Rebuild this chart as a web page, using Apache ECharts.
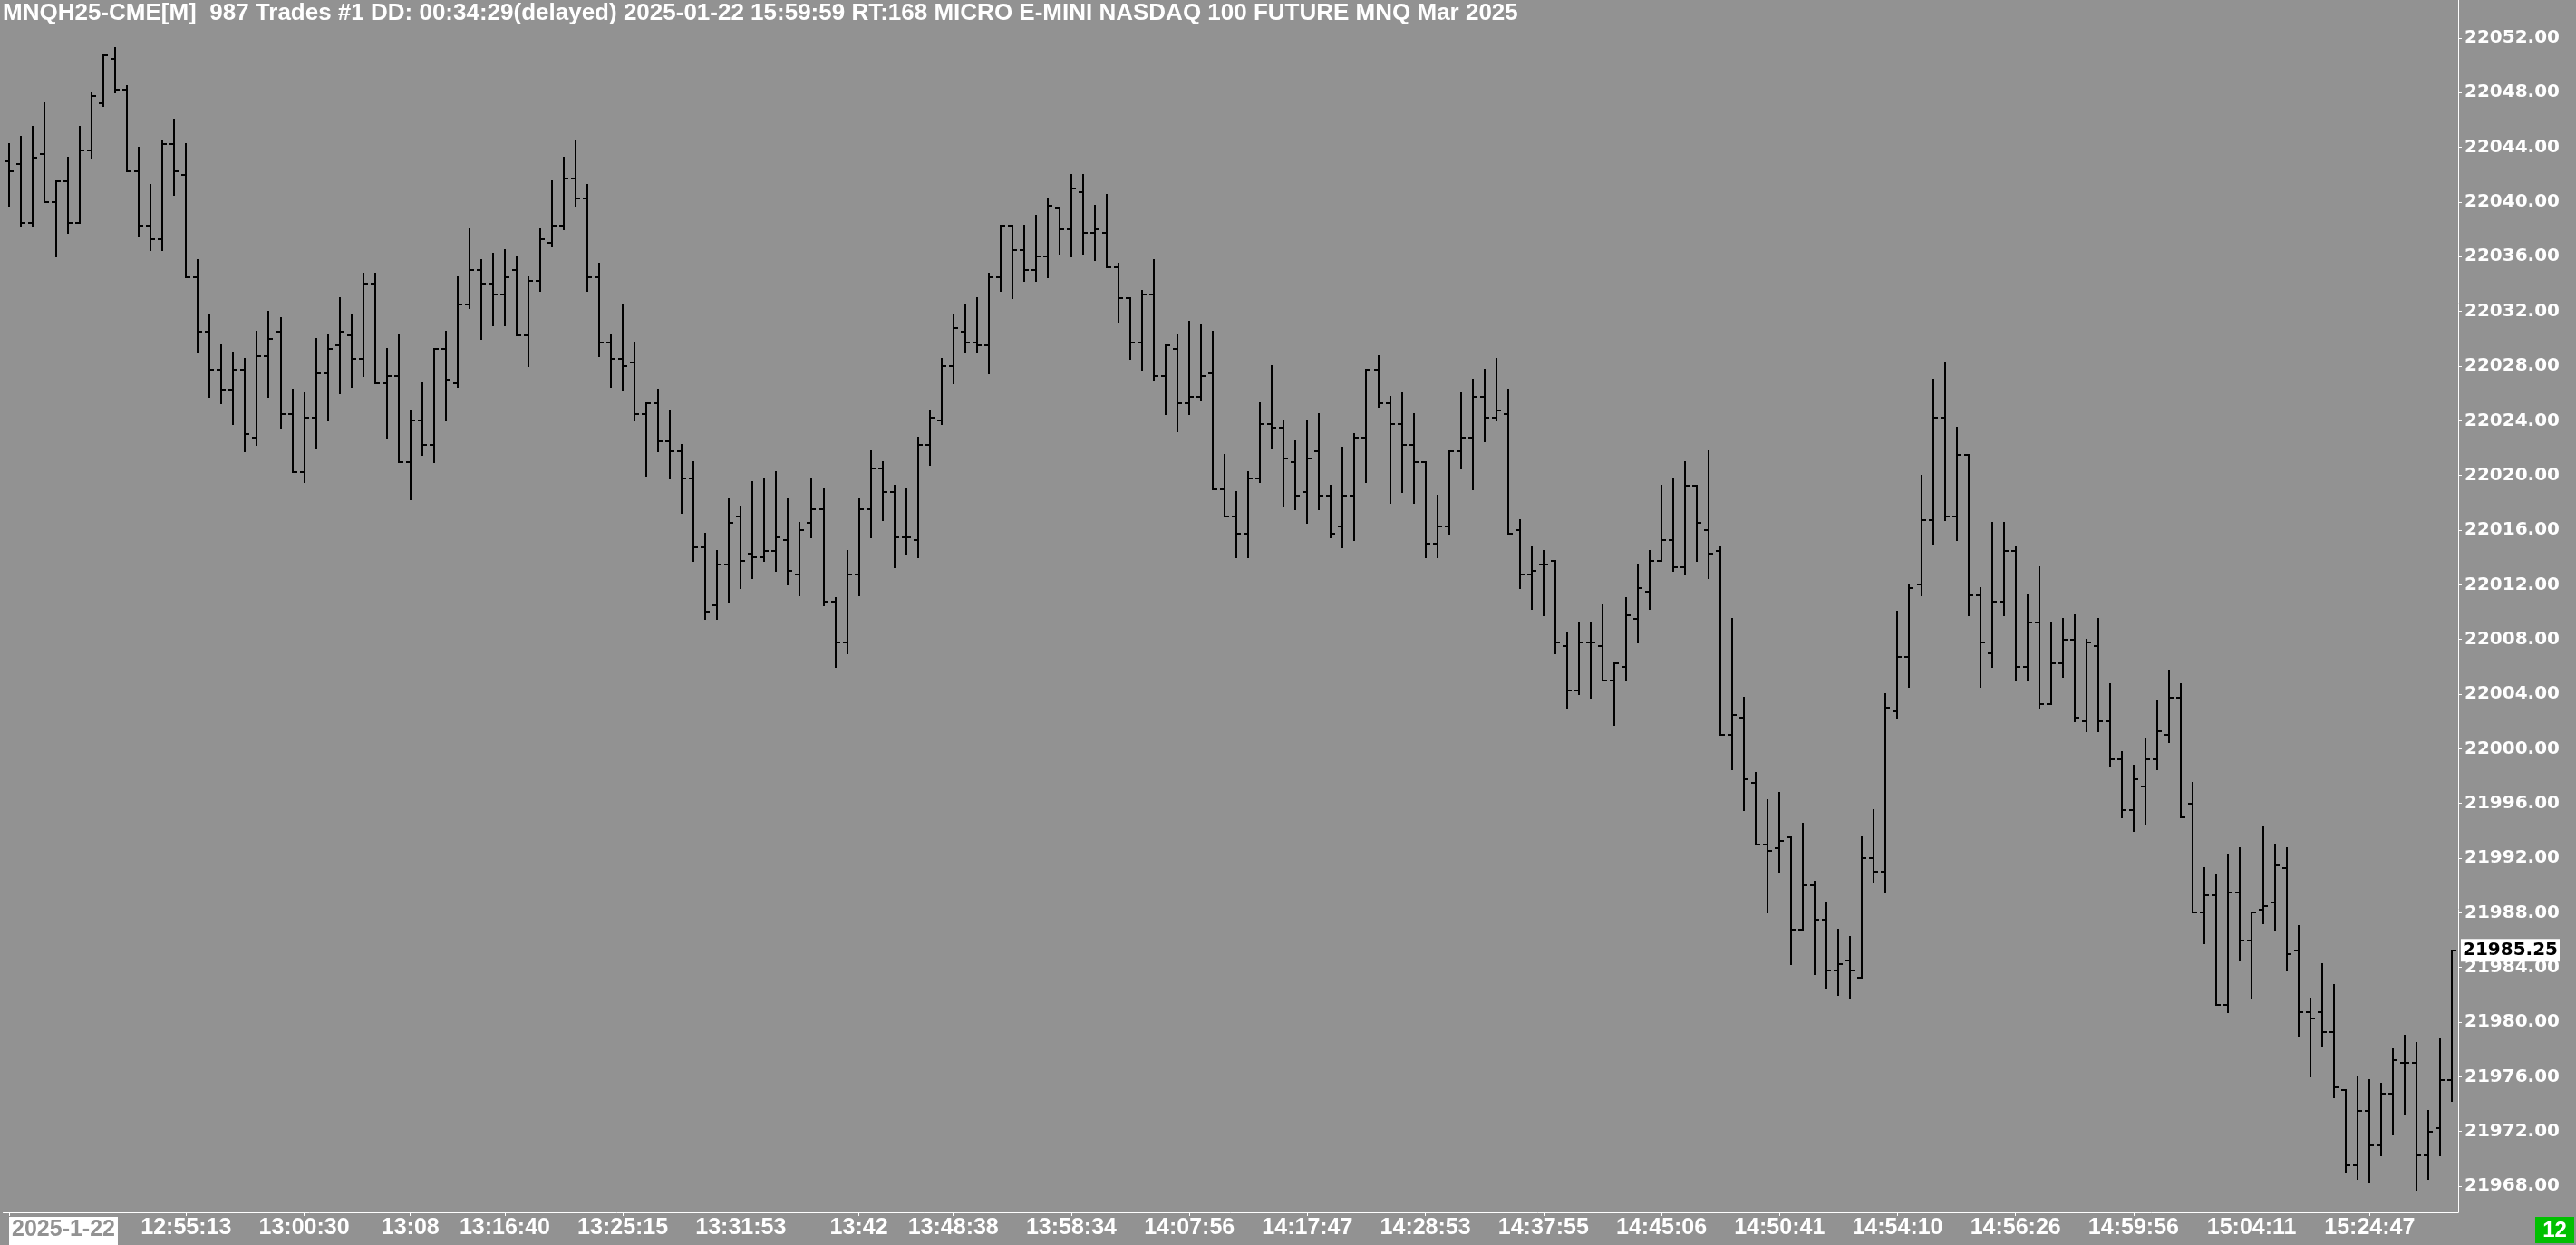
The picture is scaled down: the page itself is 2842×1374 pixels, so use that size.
<!DOCTYPE html>
<html><head><meta charset="utf-8">
<script src="https://cdn.jsdelivr.net/npm/echarts@6/dist/echarts.min.js"></script>
<style>html,body{margin:0;padding:0;background:#929292;}#c{width:2842px;height:1374px;}</style>
</head><body><div id="c"></div>
<script>
const titleText = 'MNQH25-CME[M]  987 Trades #1 DD: 00:34:29(delayed) 2025-01-22 15:59:59 RT:168 MICRO E-MINI NASDAQ 100 FUTURE MNQ Mar 2025';

const opens = [
22043,22042.75,22038.5,22043.5,22040,22041.5,22038.5,22043.75,22047.25,22050.5,
22048.25,22042.25,22038.25,22037.25,22044.25,22042,22034.5,22030.5,22027.75,22026.25,
22027.75,22022.75,22028.75,22030.5,22024.5,22020.25,22024.25,22027.5,22029.5,22030.25,
22028.5,22034,22026.75,22027.25,22021,22024,22022.25,22029.25,22026.75,22032.5,
22035,22034,22033.25,22035,22030.25,22034.25,22037,22038.25,22041.75,22040.25,
22034.5,22029.75,22028.5,22028.25,22024.5,22025.25,22022.5,22021.75,22019.75,22014.75,
22010.5,22013.5,22017,22014.25,22014,22014.5,22015.25,22012.75,22016.5,22017.5,
22010.75,22007.75,22012.75,22017.5,22020.5,22018.75,22015.5,22015.25,22022.25,22024,
22028,22030.5,22029.75,22029.5,22034.5,22038.25,22036.5,22035,22036,22039.5,
22038,22040.75,22037.75,22037.75,22035.25,22033,22029.75,22033.25,22027.25,22029.25,
22025.25,22025.75,22027.5,22019,22017,22015.75,22019.75,22023.75,22023.5,22021,
22018.75,22021.75,22018.5,22016.25,22018.5,22022.75,22027.75,22025.25,22023.75,22022.25,
22021,22015,22016.25,22021.75,22022.75,22025.75,22024.25,22024.5,22016,22012.75,
22013.5,22013.75,22007.5,22004.25,22007.75,22007.5,22005,22006,22009.5,22011.5,
22013.75,22015.25,22013.25,22019.25,22016,22014.5,22001,22002.25,21997.5,21993,
21992.75,21993.5,21986.75,21990,21987.5,21983.75,21984.5,21983.25,21992,21991,
22002.75,22006.75,22012,22016.75,22024.25,22017,22021.5,22011.25,22007,22010.75,
22014.5,22006,22009.25,22003.25,22006.25,22008,22002,22007.5,22002,21999.25,
21995.5,21997.25,21999.25,22001,22003.75,21996,21988,21989.25,21981.25,21989.5,
21986,21988.25,21988.75,21991.25,21985.25,21980.75,21980.75,21979.25,21975,21969.5,
21973.5,21971,21974.75,21977,21977,21970.25,21972.25,21975.75];

const highs = [
22044.25,22044.75,22045.5,22047.25,22041.5,22043.25,22045.5,22048,22050.75,22051.25,
22048.5,22044,22041.25,22044.5,22046,22044.25,22035.75,22031.75,22029.5,22029,
22028.5,22030.5,22032,22031.5,22026.25,22026,22030,22030.25,22033,22031.75,
22034.75,22034.75,22029.25,22030.25,22024.75,22026.75,22029.25,22030.5,22034.5,22038,
22035.75,22036.25,22036.5,22036,22034.5,22038,22041.5,22043.25,22044.5,22041.25,
22035.5,22030.25,22032.5,22029.75,22025.25,22026.25,22024.75,22022.25,22021,22015.75,
22014.5,22018.25,22017.75,22019.5,22019.75,22020.25,22018.25,22016.5,22019.75,22019,
22011,22014.5,22018.25,22021.75,22021,22019.25,22019,22022.75,22024.75,22028.5,
22031.75,22032.5,22033,22034.75,22038.25,22038.25,22038.25,22039,22040.25,22039.5,
22042,22042,22039.75,22040.5,22035.5,22033,22033.5,22035.75,22029.5,22030.25,
22031.25,22031,22030.5,22021.5,22018.75,22020.25,22025.25,22028,22024,22022.5,
22024,22024.5,22019.25,22022,22023,22027.75,22028.75,22025.75,22026,22024.5,
22021,22018.5,22021.75,22026,22027,22027.75,22028.5,22026.25,22016.75,22014.75,
22014.5,22013.75,22008.5,22009.25,22009.25,22010.5,22006.25,22011,22013.5,22014.5,
22019.25,22019.75,22021,22019.25,22021.75,22014.75,22009.5,22003.75,21998.25,21996.25,
21996.75,21993.5,21994.5,21990.25,21988.75,21986.75,21986.25,21993.5,21995.5,22004,
22010,22012,22020,22027,22028.25,22023.5,22021.5,22011.75,22016.5,22016.5,
22014.75,22011.25,22013.25,22009.25,22009.5,22009.75,22008,22009.5,22004.75,21999.75,
21998.75,22000.75,22003.5,22005.75,22004.75,21997.5,21991.25,21990.75,21992.25,21992.75,
21988,21994.25,21993,21992.75,21987,21981.75,21984.25,21982.75,21975,21976,
21975.75,21975.5,21978,21979,21978.5,21973.5,21978.75,21985.25];

const lows = [
22039.75,22038.25,22038.25,22040,22036,22037.75,22038.5,22043.25,22047,22048,
22042.25,22037.5,22036.5,22036.5,22040.5,22034.5,22029,22025.75,22025.25,22023.75,
22021.75,22022.25,22025.75,22023.5,22020.25,22019.5,22022,22024,22026,22026.5,
22027.25,22026.75,22022.75,22021,22018.25,22021.5,22021,22024,22026.5,22032.25,
22030,22031,22031,22030.25,22028,22033.5,22036.75,22038,22039.75,22033.5,
22028.75,22026.5,22026.25,22024,22020,22021.75,22019.75,22017.25,22013.75,22009.5,
22009.5,22010.75,22011.75,22012.5,22013.75,22013,22012,22011.25,22015.5,22010.5,
22006,22007,22011.25,22015.5,22016.75,22013.25,22014.25,22014,22020.75,22023.75,
22026.75,22029,22029,22027.5,22033.5,22033,22034.25,22034.25,22034.5,22036.25,
22036,22036.25,22035.75,22035.25,22031.25,22028.5,22027.75,22027,22024.5,22023.25,
22024.5,22025.5,22019,22017,22014,22014,22019.5,22022,22017.75,22017.5,
22016.5,22017.5,22015.5,22014.75,22015.25,22019.5,22025,22018,22018.75,22018,
22014,22014,22015.75,22020.5,22019,22022.5,22024,22015.75,22011.75,22010.25,
22009.75,22007,22003,22004,22003.75,22005,22001.75,22005,22007.75,22010.25,
22013.75,22013,22012.75,22013.75,22012.5,22001,21998.5,21995.5,21993,21988,
21991,21984.25,21986.75,21983.5,21982.5,21982,21981.75,21983.25,21990.25,21989.5,
22002.25,22004.5,22011.25,22015,22016.75,22015.25,22009.75,22004.5,22006,22009.75,
22005,22005,22003,22003.25,22005.25,22002,22001.25,22001.25,21998.75,21995,
21994,21994.5,21998.5,22000.5,21995,21988,21985.75,21981.25,21980.75,21984.5,
21981.75,21987.25,21986.75,21983.75,21979,21976,21978.25,21974.5,21969,21968.5,
21968.25,21970.25,21971.75,21973.25,21967.75,21968.5,21970.25,21974.25];

const closes = [
22042.25,22038.5,22043.25,22040,22041.5,22038.5,22043.75,22047.75,22050.75,22048.25,
22042.25,22038.25,22037.25,22044.25,22042.25,22034.5,22030.5,22027.75,22026.25,22027.75,
22023,22028.75,22030,22024.5,22020.25,22024.25,22027.5,22029.25,22030.5,22028.5,
22034,22026.75,22027.25,22021,22024,22022.25,22029.25,22027,22032.5,22035,
22034,22033.25,22034.5,22030.25,22034.25,22037.25,22038.25,22041.75,22040.25,22034.5,
22029.75,22028.5,22028,22024.5,22025.25,22022.5,22021.75,22019.75,22014.75,22010,
22013.5,22016.5,22013.75,22014,22014.5,22015.5,22013,22016,22017.5,22010.75,
22007.75,22012.75,22017.5,22020.5,22018.75,22015.5,22015.5,22022.25,22024.25,22028,
22030.75,22029.75,22029.5,22034.5,22038.25,22036.5,22035,22036,22039.75,22038,
22041,22037.75,22038,22035.25,22033,22029.75,22033.25,22027.25,22029.5,22025.25,
22025.75,22027.25,22019,22017,22015.75,22019.75,22023.75,22023.5,22021.25,22018.5,
22021.25,22018.5,22015.75,22018.5,22022.75,22027.75,22025.25,22023.75,22022.25,22021,
22015,22016.25,22021.75,22022.75,22025.75,22024.25,22024.75,22015.75,22012.75,22013,
22013.5,22007.75,22004.25,22007.75,22007.75,22005,22006.25,22009.75,22011.75,22013.75,
22015.25,22013.25,22019.25,22016.5,22014.25,22001,22002.5,21997.75,21993,21992.5,
21993.25,21986.75,21990,21987.5,21983.75,21984.25,21983.75,21992,21991,22003,
22006.75,22011.75,22016.75,22024.25,22017,22021.5,22011.25,22007.75,22010.75,22014.5,
22006,22009.25,22003.25,22006.25,22008,22002.25,22007.75,22002,21999.25,21995.5,
21997.75,21999.25,22001.25,22003.75,21995,21988,21989.25,21981.25,21989.5,21986,
21988,21988.5,21991.5,21985,21980.75,21980.25,21979.25,21975.25,21969.5,21973.5,
21971,21974.75,21977.25,21977,21970.25,21972,21975.75,21985.25];

const tickBars = [0,15,25,34,42,52,62,72,80,90,100,110,120,130,140,150,160,170,180,190,200];
const tickLabels = ['2025-1-22','12:55:13','13:00:30','13:08','13:16:40','13:25:15','13:31:53','13:42','13:48:38','13:58:34','14:07:56','14:17:47','14:28:53','14:37:55','14:45:06','14:50:41','14:54:10','14:56:26','14:59:56','15:04:11','15:24:47'];
const priceTicks = [21968,21972,21976,21980,21984,21988,21992,21996,22000,22004,22008,22012,22016,22020,22024,22028,22032,22036,22040,22044,22048,22052];
const lastPrice = 21985.25;
const cornerText = '12';

const BG = '#929292';
const categories = opens.map((_, i) => String(i));
const labelMap = new Map(tickBars.map((b, k) => [b, tickLabels[k]]));
const ohlc = opens.map((o, i) => [i, o, highs[i], lows[i], closes[i]]);

function renderItem(params, api) {
  const i = api.value(0);
  const pO = api.coord([i, api.value(1)]);
  const pH = api.coord([i, api.value(2)]);
  const pL = api.coord([i, api.value(3)]);
  const pC = api.coord([i, api.value(4)]);
  const x = Math.round(pH[0]);
  const half = Math.round(api.size([1, 0])[0] * 0.4);
  const st = {stroke: '#000', lineWidth: 2, lineCap: 'butt'};
  return {type: 'group', children: [
    {type: 'line', shape: {x1: x, y1: Math.round(pH[1]) - 1, x2: x, y2: Math.round(pL[1]) + 1}, style: st},
    {type: 'line', shape: {x1: x - half, y1: Math.round(pO[1]), x2: x, y2: Math.round(pO[1])}, style: st},
    {type: 'line', shape: {x1: x, y1: Math.round(pC[1]), x2: x + half, y2: Math.round(pC[1])}, style: st}
  ]};
}

const chart = echarts.init(document.getElementById('c'), null, {renderer: 'canvas'});
chart.setOption({
  backgroundColor: BG,
  animation: false,
  title: {text: titleText, left: 3, top: 2, padding: 0,
    textStyle: {color: '#fff', fontSize: 26, fontWeight: 'bold', fontFamily: 'Liberation Sans'}},
  grid: {left: 3.5, right: 130, top: 0, bottom: 35, containLabel: false},
  xAxis: {
    type: 'category', data: categories, boundaryGap: true,
    axisLine: {lineStyle: {color: '#fff', width: 1}},
    axisTick: {show: true, alignWithLabel: true, length: 4, interval: (i) => labelMap.has(i), lineStyle: {color: '#fff'}},
    axisLabel: {
      interval: (i) => labelMap.has(i),
      formatter: (v, i) => { const t = labelMap.get(Number(v)) || ''; return Number(v) === 0 ? '{d|' + t + '}' : t; },
      color: '#fff', fontWeight: 'bold', fontSize: 25, fontFamily: 'Liberation Sans', margin: 5,
      alignMinLabel: 'left',
      rich: {d: {backgroundColor: '#fff', color: BG, fontWeight: 'bold', fontSize: 25, fontFamily: 'Liberation Sans', padding: [2, 3, 4, 3]}}
    },
    splitLine: {show: false}
  },
  yAxis: {
    type: 'value', position: 'right', min: 21966.08, max: 22054.78,
    axisLine: {show: true, lineStyle: {color: '#fff', width: 1}},
    axisTick: {show: true, length: 4, customValues: priceTicks, lineStyle: {color: '#fff'}},
    axisLabel: {customValues: priceTicks, formatter: (v) => Number(v).toFixed(2), color: '#fff', fontWeight: 'bold',
      fontSize: 20, fontFamily: 'DejaVu Sans', margin: 7},
    splitLine: {show: false}
  },
  series: [
    {type: 'custom', renderItem: renderItem, data: ohlc, encode: {x: 0, y: [1, 2, 3, 4]}, clip: true, silent: true, z: 2},
    {type: 'line', data: closes, symbol: 'none', silent: true, clip: false, z: 5,
      lineStyle: {color: 'rgba(0,0,0,0)', width: 0},
      markLine: {silent: true, symbol: ['none', 'none'], animation: false,
        lineStyle: {color: 'rgba(0,0,0,0)', width: 0, type: 'solid'},
        label: {show: true, position: 'end', formatter: lastPrice.toFixed(2), backgroundColor: '#fff', color: '#000', fontWeight: 'bold',
          fontSize: 20, fontFamily: 'DejaVu Sans', padding: [3, 2, 2, 2], distance: 3},
        data: [{yAxis: lastPrice}]}}
  ],
  graphic: [{type: 'group', right: 2, bottom: 2, children: [
    {type: 'rect', shape: {x: 0, y: 0, width: 43, height: 29}, style: {fill: '#00c000'}},
    {type: 'text', x: 21.5, y: 15, style: {text: cornerText, fill: '#fff', font: 'bold 24px "Liberation Sans"', align: 'center', verticalAlign: 'middle'}}
  ]}]
});
</script>
</body></html>
